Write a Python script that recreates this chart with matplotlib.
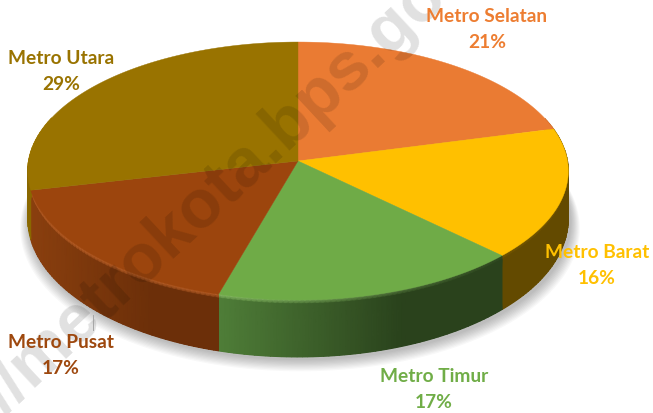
import numpy as np
import matplotlib
matplotlib.use('Agg')
from matplotlib import pyplot as plt
from matplotlib.colors import to_rgb

names = ['Metro Selatan', 'Metro Barat', 'Metro Timur', 'Metro Pusat', 'Metro Utara']
values = [20.9, 16.4, 17.1, 17.0, 28.6]
top_colors = ['#EA7B33', '#FFC000', '#6FAB47', '#9C450D', '#997300']
text_colors = ['#ED7D31', '#FFC000', '#70AD47', '#9E480E', '#997300']
side_left = ['#8A4A1E', '#634A00', '#4F7E38', '#8A3F0E', '#8A6800']
side_right = ['#8A4A1E', '#634A00', '#2A421C', '#6C2F09', '#8A6800']
rim_colors = ['#C06A2A', '#7A5C00', '#8FC26A', '#C4662C', '#B08A10']
label_pos = [(487, 16), (597, 252), (434, 377), (61, 343), (61, 58)]

cx, cy = 298, 161
A, B, k = 269.5, 128.2, 0.0775


def project(theta, extra=0.):
    # theta in radians, clockwise from the back of the pie
    u, v = np.sin(theta), np.cos(theta)
    w = 1 + k*v
    sx = cx + A*u/w
    sy = cy - B*v/w
    depth = 47 - 10*v
    return sx, sy + extra*depth


fig = plt.figure(figsize=(6.53, 4.13), dpi=100)
ax = fig.add_axes([0, 0, 1, 1])
ax.set_xlim(0, 653)
ax.set_ylim(413, 0)
ax.axis('off')

edges = np.radians(np.concatenate([[0], np.cumsum(values)])*3.6)

# soft shadow under the pie
tt = np.linspace(0, 2*np.pi, 400)
sx, sy = project(tt, 1.)
for i in range(10, 0, -1):
    f = 1 + i*0.0035
    ax.fill(cx + (sx-cx)*f + 2, cy + (sy-cy)*f + 2 + i*0.55, color='k', alpha=0.028, lw=0, zorder=1)

# side walls as smooth meshes: rim row, then the wall
for i in range(len(values)):
    th = np.linspace(edges[i], edges[i+1], 60)
    th = th[np.cos(th) < 0.35]
    if len(th) < 2:
        continue
    x0, y0 = project(th)
    x1, y1 = project(th, 1.)
    X = np.vstack([x0, x0, x1])
    Y = np.vstack([y0, y0+4, y1])
    xn = (x0 - x0.min())/(x0.max() - x0.min())
    left, right = np.array(to_rgb(side_left[i])), np.array(to_rgb(side_right[i]))
    wall = left + (right-left)*np.minimum(xn/0.65, 1)[:, None]
    rim = np.array(to_rgb(rim_colors[i]))
    if names[i] == 'Metro Timur':
        rim = wall + (rim-wall)*(1 - 0.9*xn)[:, None]
    else:
        rim = np.tile(rim, (len(th), 1))
    C = np.stack([rim, wall, wall])
    ax.fill(np.r_[x0, x1[::-1]], np.r_[y0, y1[::-1]], color=side_right[i], lw=0, zorder=2)
    ax.pcolormesh(X, Y, C, shading='gouraud', zorder=3)

# top face
for i in range(len(values)):
    th = np.linspace(edges[i], edges[i+1], 120)
    x, y = project(th)
    ax.fill(np.r_[cx, x], np.r_[cy, y], color=top_colors[i], lw=0.3, zorder=4)

# watermark
ax.text(215, 195, '//metrokota.bps.go', rotation=43, rotation_mode='anchor',
        ha='center', va='center', fontsize=49, fontweight='bold', family='Liberation Sans',
        color='k', alpha=0.12, zorder=5)

# leader line of the Metro Pusat label
ax.plot([93, 93], [315, 330], color='#A6A6A6', lw=0.7, zorder=6)

for name, val, col, (lx, ly) in zip(names, values, text_colors, label_pos):
    ax.text(lx, ly, name, ha='center', va='center', color=col, fontsize=13.8,
            fontweight='bold', family='Lato', zorder=7)
    ax.text(lx, ly+26, f'{round(val)}%', ha='center', va='center', color=col, fontsize=13.8,
            fontweight='bold', family='Lato', zorder=7)

fig.savefig('out.png', dpi=100)
